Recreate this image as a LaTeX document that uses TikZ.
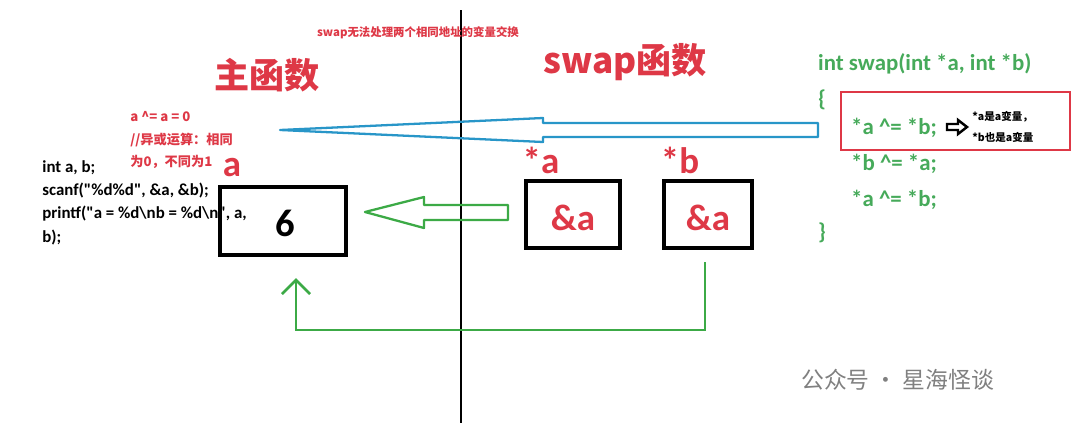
\documentclass[tikz,border=0pt]{standalone}
\usepackage{fontspec}
\setmainfont{Noto Sans CJK SC}
\newfontfamily\lat{Carlito}
\definecolor{myred}{RGB}{222,56,70}
\definecolor{mygreen}{RGB}{70,170,90}
\definecolor{myblue}{RGB}{40,150,200}
\definecolor{arrgreen}{RGB}{60,170,70}
\begin{document}
\begin{tikzpicture}[x=0.02cm,y=-0.02cm,
  redt/.style={text=myred,font=\bfseries},
  greent/.style={text=mygreen,font=\lat\fontsize{13}{15}\selectfont\bfseries,anchor=west},
  codet/.style={font=\lat\fontsize{9.6}{11}\selectfont\bfseries,anchor=west,inner sep=0},
  bigred/.style={text=myred,font=\lat\fontsize{21}{24}\selectfont\bfseries}]
\useasboundingbox (0,0) rectangle (1080,423);
\fill[white] (0,0) rectangle (1080,423);
\coordinate (vt) at (461,10); \coordinate (vb) at (461,423);
\draw[line width=1.6pt] (vt) -- (vb);
\node[redt,font=\fontsize{6.5}{8}\selectfont\bfseries] (title) at (418,33) {swap无法处理两个相同地址的变量交换};
\node[redt,font=\fontsize{20}{24}\selectfont\bfseries] (mainf) at (267,75) {主函数};
\node[redt,font=\fontsize{20}{24}\selectfont\bfseries] (swapf) at (625,62) {swap函数};
\node[redt,font=\fontsize{7.5}{9}\selectfont\bfseries,anchor=west,inner sep=0] (c1) at (130,117) {a \textasciicircum= a = 0};
\node[redt,font=\fontsize{7.5}{9}\selectfont\bfseries,anchor=west,inner sep=0] (c2) at (130,140) {//异或运算：相同};
\node[redt,font=\fontsize{7.5}{9}\selectfont\bfseries,anchor=west,inner sep=0] (c3) at (130,162) {为0，不同为1};
\node[bigred] (la) at (232,168) {a};
\node[codet] (k1) at (42,168) {int a, b;};
\node[codet] (k2) at (42,191) {scanf("\%d\%d", \&a, \&b);};
\node[codet] (k3) at (42,214) {printf("a = \%d\textbackslash nb = \%d\textbackslash n", a,};
\node[codet] (k4) at (42,238) {b);};
\draw[line width=1.8pt] (220,187) rectangle (346,255);
\node[font=\lat\fontsize{22}{26}\selectfont\bfseries] (six) at (285,223) {6};
\node[bigred] (sa) at (541,160) {*a};
\node[bigred] (sb) at (680,160) {*b};
\draw[line width=1.8pt] (526,181) rectangle (620,248);
\draw[line width=1.8pt] (664,181) rectangle (752,248);
\node[bigred] (pa) at (573,218) {\&a};
\node[bigred] (pb) at (708,218) {\&a};
% green hollow arrow
\draw[arrgreen,line width=1.3pt,line join=round] (365,212) -- (424,197) -- (424,205) -- (508,205) -- (508,220) -- (424,220) -- (424,228) -- cycle;
% blue hollow arrow
\draw[myblue,line width=1.3pt,line join=round] (280,130) -- (543,118) -- (543,123) -- (818,123) -- (818,137) -- (543,137) -- (543,142) -- cycle;
% right code
\node[greent] (g0) at (812,64) {int swap(int *a, int *b)};
\node[greent] (g1) at (812,100) {\{};
\node[greent] (g2) at (845,128) {*a \textasciicircum= *b;};
\node[greent] (g3) at (845,164) {*b \textasciicircum= *a;};
\node[greent] (g4) at (845,200) {*a \textasciicircum= *b;};
\node[greent] (g5) at (812,233) {\}};
\draw[myred,line width=1.5pt] (841,92) rectangle (1070,150);
\draw[line width=1.4pt,line join=miter] (947,124) -- (958,124) -- (958,120) -- (967,127) -- (958,134) -- (958,130) -- (947,130) -- cycle;
\node[font=\fontsize{6}{8}\selectfont\bfseries,anchor=west,inner sep=0] (n1) at (972,117) {*a是a变量，};
\node[font=\fontsize{6}{8}\selectfont\bfseries,anchor=west,inner sep=0] (n2) at (972,137) {*b也是a变量};
% green return path
\coordinate (p0) at (705,262); \coordinate (p1) at (705,330);
\coordinate (p2) at (296,330); \coordinate (p3) at (296,280);
\draw[arrgreen,line width=1.5pt] (p0) -- (p1) -- (p2) -- (p3);
\draw[arrgreen,line width=1.5pt] (282,294) -- (p3) -- (310,294);
% watermark
\node[text=gray,font=\fontsize{13}{16}\selectfont,anchor=west] (wm) at (795,380) {公众号 · 星海怪谈};
\end{tikzpicture}
\end{document}
